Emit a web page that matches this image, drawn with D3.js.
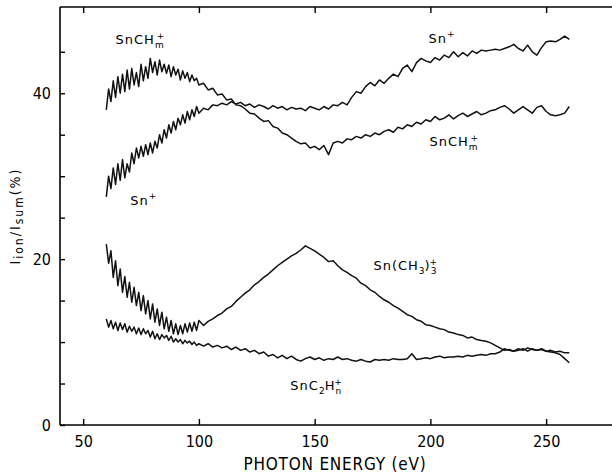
<!DOCTYPE html>
<html>
<head>
<meta charset="utf-8">
<script src="https://cdn.jsdelivr.net/npm/d3@7"></script>
<style>
  html, body { margin: 0; padding: 0; background: #fff; }
  svg { display: block; }
  .tick text { font-family: 'Liberation Sans Narrow', 'DejaVu Sans Condensed', 'Roboto', sans-serif; font-size: 16px; fill: #000; }
</style>
</head>
<body>
<div id="chart"></div>
<script>
// Photon energy grid (eV)
const energy = [
  60, 61, 62, 63, 64, 65, 66, 67, 68, 69, 70, 71, 72, 73, 74, 75, 76, 77, 78, 79, 80,
  81, 82, 83, 84, 85, 86, 87, 88, 89, 90, 91, 92, 93, 94, 95, 96, 97, 98, 99, 100,
  102, 104, 106, 108, 110, 112, 114, 116, 118, 120, 122, 124, 126, 128, 130,
  132, 134, 136, 138, 140, 142, 144, 146, 148, 150, 152, 154, 156, 158, 160,
  162, 164, 166, 168, 170, 172, 174, 176, 178, 180, 182, 184, 186, 188, 190,
  192, 194, 196, 198, 200, 202, 204, 206, 208, 210, 212, 214, 216, 218, 220,
  222, 224, 226, 228, 230, 232, 234, 236, 238, 240, 242, 244, 246, 248, 250,
  252, 254, 256, 258, 260
];

// Ion yields I_ion / I_sum (%)
const snCHm = [
  38.0, 40.5, 39.0, 41.5, 39.5, 42.0, 40.0, 42.3, 40.2, 42.8, 40.5, 43.0, 41.0, 42.5, 40.8, 43.5, 41.5, 43.2, 41.8, 44.2, 42.5,
  43.8, 42.2, 44.0, 42.6, 43.5, 42.4, 43.4, 42.0, 43.2, 42.2, 42.9, 41.6, 42.7, 41.8, 42.5, 41.4, 42.2, 41.5, 41.8, 41.0,
  41.2, 40.4, 40.6, 39.8, 39.9, 39.2, 39.3, 38.6, 38.5, 38.1, 37.6, 37.5, 37.0, 36.6, 36.7,
  36.0, 35.8, 35.2, 35.0, 34.6, 34.2, 33.9, 34.0, 33.4, 33.6, 33.2, 33.7, 32.6, 34.0, 34.2,
  34.0, 34.5, 34.4, 34.8, 34.6, 35.0, 34.8, 35.2, 35.0, 35.4, 35.6, 35.3, 35.9, 35.7, 36.2,
  36.0, 36.5, 36.3, 36.8, 36.6, 37.2, 36.8, 37.0, 37.4, 36.9, 37.3, 37.6, 37.2, 37.5, 37.8,
  37.4, 37.6, 37.9, 38.0, 38.3, 38.5, 38.1, 37.6, 38.0, 38.4, 38.0, 37.6, 38.3, 38.5, 37.8,
  37.4, 37.3, 37.4, 37.6, 38.4
];

const snPlus = [
  27.5, 30.0, 28.5, 31.0, 29.0, 31.5, 29.5, 32.0, 29.8, 31.5, 30.5, 32.8, 31.5, 33.4, 32.2, 33.6, 32.4, 33.8, 32.6, 34.0, 32.8,
  34.2, 33.4, 35.0, 34.0, 35.6, 34.6, 36.2, 35.2, 36.6, 35.6, 37.0, 36.2, 37.4, 36.4, 37.8, 36.8, 38.0, 37.2, 38.4, 37.6,
  38.2, 38.0, 38.6, 38.5, 38.8, 38.6, 39.0, 38.7, 38.9, 38.5, 38.7, 38.3, 38.6, 38.4, 38.1,
  38.5, 38.2, 38.4, 38.0, 38.3, 38.1, 38.2, 37.9, 38.4, 38.2, 38.0, 38.4, 38.1, 38.6, 38.5,
  38.9, 38.6, 39.5, 40.2, 40.0, 40.8, 41.3, 40.9, 41.6, 41.2, 41.8, 42.3, 42.0, 43.0, 43.4,
  42.6, 43.7, 44.2, 43.9, 43.7, 44.3, 44.0, 44.6, 44.3, 45.0, 44.4, 44.9, 44.5, 45.1, 44.8,
  45.2, 45.1, 45.2, 45.3, 45.2, 45.4, 45.6, 45.9, 45.4, 45.1, 45.8, 45.0, 44.6, 45.5, 46.2,
  46.3, 46.2, 46.5, 46.9, 46.5
];

const snMe3 = [
  21.8, 19.5, 21.0, 17.8, 19.8, 16.8, 18.8, 16.0, 17.9, 15.4, 17.2, 14.8, 16.6, 14.4, 16.0, 13.8, 15.6, 13.4, 15.0, 12.8, 14.6,
  12.4, 14.0, 12.0, 13.6, 11.6, 13.0, 11.3, 12.6, 11.0, 12.2, 10.9, 12.0, 11.0, 12.2, 11.2, 12.3, 11.3, 12.4, 11.4, 12.6,
  12.0, 12.5, 12.8, 13.2, 13.5, 14.0, 14.3, 14.9, 15.4, 15.9, 16.3, 16.9, 17.3, 17.8, 18.2,
  18.7, 19.2, 19.6, 20.0, 20.4, 20.7, 21.1, 21.6, 21.3, 21.0, 20.6, 20.2, 19.7, 19.8, 19.2,
  18.7, 18.4, 18.0, 17.7, 17.1, 16.8, 16.3, 16.0, 15.5, 15.1, 14.8, 14.4, 14.1, 13.7, 13.3,
  13.1, 12.7, 12.5, 12.1, 12.0, 11.8, 11.6, 11.5, 11.2, 11.1, 10.9, 10.8, 10.5, 10.6, 10.3,
  10.2, 10.1, 9.9, 9.6, 9.3, 9.0, 9.1, 8.9, 9.0, 9.2, 8.9, 9.2, 9.0, 9.1, 8.9,
  8.8, 8.7, 8.5, 8.0, 7.5
];

const snC2Hn = [
  12.8, 11.8, 12.6, 11.6, 12.4, 11.4, 12.3, 11.5, 12.2, 11.2, 11.9, 11.3, 11.8, 11.0, 11.7, 10.9, 11.6, 11.0, 11.4, 10.6, 11.3,
  10.4, 11.0, 10.3, 10.9, 10.5, 10.8, 10.2, 10.7, 10.0, 10.4, 10.0, 10.3, 9.8, 10.2, 9.9, 10.1, 9.7, 10.0, 9.6, 9.8,
  9.5, 9.8, 9.4, 9.6, 9.3, 9.5, 9.1, 9.4, 9.0, 9.2, 8.8, 9.0, 8.6, 8.8, 8.3,
  8.5, 8.1, 8.4, 8.0, 8.3, 7.9, 7.7, 8.0, 8.2, 7.9, 8.1, 7.8, 8.0, 7.9, 8.2,
  7.9, 8.0, 7.8, 7.7, 7.9, 7.7, 7.6, 7.9, 7.8, 7.9, 7.8, 8.0, 7.9, 7.9, 8.0,
  8.6, 7.9, 8.0, 8.1, 8.0, 8.2, 8.3, 8.1, 8.2, 8.2, 8.3, 8.2, 8.4, 8.3, 8.4,
  8.5, 8.4, 8.6, 8.6, 8.8, 9.2, 9.0, 8.9, 9.2, 9.0, 9.3, 9.1, 9.0, 9.2, 8.9,
  9.0, 8.8, 8.9, 8.7, 8.7
];

const xTicks = [50, 100, 150, 200, 250];
const yTicks = [0, 5, 10, 15, 20, 25, 30, 35, 40, 45];
const yTickLabels = [0, 20, 40];

// Curve labels: [text pieces, energy, value]
const labels = [
  { parts: [['SnCH'], ['m', 'sub'], ['+', 'sup']], e: 64, v: 45.9 },
  { parts: [['Sn'], ['+', 'sup1']], e: 70.3, v: 26.5 },
  { parts: [['Sn'], ['+', 'sup1']], e: 199.2, v: 46.0 },
  { parts: [['SnCH'], ['m', 'sub'], ['+', 'sup']], e: 199.6, v: 33.6 },
  { parts: [['Sn(CH'], ['3', 'sub0'], [')'], ['3', 'sub'], ['+', 'sup']], e: 175.4, v: 18.7 },
  { parts: [['SnC'], ['2', 'sub0'], ['H'], ['n', 'sub'], ['+', 'sup']], e: 139.5, v: 4.2 }
];

const width = 612, height = 475;
const x = d3.scaleLinear().domain([40, 280]).range([60, 615.6]);
const y = d3.scaleLinear().domain([0, 50.4]).range([425, 7]);

const svg = d3.select('#chart').append('svg')
  .attr('width', width)
  .attr('height', height);

// frame lines
svg.append('line').attr('x1', x(40)).attr('x2', width).attr('y1', y(50.4)).attr('y2', y(50.4))
  .attr('stroke', '#000').attr('stroke-width', 1.6);

// axes
const xAxis = svg.append('g').attr('transform', `translate(0,${y(0)})`)
  .call(d3.axisBottom(x).tickValues(xTicks).tickSizeInner(-6).tickSizeOuter(0).tickPadding(11));
xAxis.select('.domain').attr('d', `M${x(40)},0H${width}`).attr('stroke-width', 1.6);

const xTop = svg.append('g').attr('transform', `translate(0,${y(50.4)})`)
  .call(d3.axisTop(x).tickValues(xTicks).tickSizeInner(-6).tickSizeOuter(0).tickFormat(''));
xTop.select('.domain').remove();

const yAxis = svg.append('g').attr('transform', `translate(${x(40)},0)`)
  .call(d3.axisLeft(y).tickValues(yTicks).tickSizeInner(-5).tickSizeOuter(0).tickPadding(9)
    .tickFormat(d => yTickLabels.includes(d) ? d : ''));
yAxis.select('.domain').attr('d', `M0,${y(50.4)}V${y(0)}`).attr('stroke-width', 1.6);
svg.selectAll('.tick line').attr('stroke-width', 1.4);

// axis titles
svg.append('text')
  .attr('x', x(40) + (width - x(40)) / 2 - 1)
  .attr('y', 470)
  .attr('text-anchor', 'middle')
  .style('font-family', "'Liberation Sans Narrow', 'DejaVu Sans Condensed', sans-serif")
  .style('font-size', '17px')
  .style('letter-spacing', '0.8px')
  .text('PHOTON ENERGY (eV)');

const yTitle = svg.append('text')
  .attr('transform', `translate(20,${y(25.2)}) rotate(-90)`)
  .attr('text-anchor', 'middle')
  .style('font-family', "'DejaVu Sans Condensed', sans-serif")
  .style('font-size', '14px')
  .style('letter-spacing', '2px');
yTitle.append('tspan').text('I');
yTitle.append('tspan').attr('dy', 3).style('font-size', '12px').text('ion');
yTitle.append('tspan').attr('dy', -3).text('/I');
yTitle.append('tspan').attr('dy', 3).style('font-size', '12px').text('sum');
yTitle.append('tspan').attr('dy', -3).text('(%)');

// curves
const series = [snCHm, snPlus, snMe3, snC2Hn];
const line = d3.line()
  .x((d, i) => x(energy[i]))
  .y(d => y(d));

svg.append('g')
  .selectAll('path')
  .data(series)
  .join('path')
  .attr('d', d => line(d))
  .attr('fill', 'none')
  .attr('stroke', '#111')
  .attr('stroke-width', 1.5)
  .attr('stroke-linejoin', 'round');

// labels
const lab = svg.append('g')
  .style('font-family', "'DejaVu Sans', sans-serif")
  .style('font-size', '13px')
  .style('letter-spacing', '1px')
  .selectAll('text')
  .data(labels)
  .join('text')
  .attr('x', d => x(d.e))
  .attr('y', d => y(d.v));

lab.each(function(d) {
  const t = d3.select(this);
  let shift = 0;
  d.parts.forEach(([s, kind]) => {
    const ts = t.append('tspan').text(s);
    if (kind === 'sub' || kind === 'sub0') {
      ts.attr('dy', 4 - shift).style('font-size', '9px').style('letter-spacing', '0px');
      shift = 4;
    } else if (kind === 'sup') {
      ts.attr('dx', -7).attr('dy', -9 - shift + 4).style('font-size', '9px');
      shift = -5;
    } else if (kind === 'sup1') {
      ts.attr('dy', -6 - shift).style('font-size', '9px');
      shift = -6;
    } else {
      ts.attr('dy', -shift);
      shift = 0;
    }
  });
});
</script>
</body>
</html>
